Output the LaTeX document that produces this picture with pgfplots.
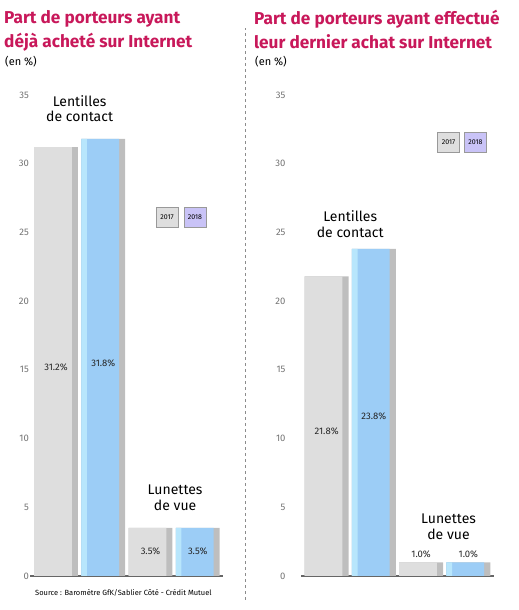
\documentclass[border=0pt]{standalone}
\usepackage{fontspec}
\setmainfont{Fira Sans}
\usepackage{pgfplots}
\pgfplotsset{compat=1.18}
\definecolor{titlered}{HTML}{C8185A}
\definecolor{barg}{HTML}{DEDEDE}
\definecolor{bargd}{HTML}{BEBEBE}
\definecolor{barb}{HTML}{9CCDF6}
\definecolor{barbl}{HTML}{B8E6FC}
\definecolor{lav}{HTML}{C9C3F7}
\pgfplotsset{panel/.style={
  scale only axis, width=189pt, height=481pt, anchor=south west,
  xmin=-0.5, xmax=3.5, ymin=0, ymax=35,
  axis lines*=left, clip=false,
  y axis line style={draw=none},
  x axis line style={draw=black!60, line width=2.5pt, shorten <=-2pt, shorten >=-2pt},
  xtick=\empty, ytick={0,5,...,35}, major tick length=0pt,
  /pgf/number format/assume math mode=true,
  yticklabel style={font=\fontsize{9.5}{9.5}\selectfont, text=black!55},
  ybar, bar shift=0pt,
  every node near coord/.style={anchor=center, font=\fontsize{9.5}{9.5}\selectfont, text=black!85},
}}
\newcommand{\catfont}{\fontsize{14}{15.5}\selectfont}
\begin{document}
\begin{tikzpicture}
\path[use as bounding box] (0pt,0pt) rectangle (519pt,610pt);
% titles
\node[anchor=north west, text=titlered, font=\fontsize{17.2}{24}\selectfont\bfseries, align=left, inner sep=0pt] at (4pt,600pt) {Part de porteurs ayant\\déjà acheté sur Internet};
\node[anchor=west, font=\fontsize{11}{12}\selectfont, inner sep=0pt] at (5pt,548pt) {(en \%)};
\node[anchor=north west, text=titlered, font=\fontsize{17.2}{24}\selectfont\bfseries, align=left, inner sep=0pt] at (254pt,600pt) {Part de porteurs ayant effectué\\leur dernier achat sur Internet};
\node[anchor=west, font=\fontsize{11}{12}\selectfont, inner sep=0pt] at (255pt,548pt) {(en \%)};
\draw[black!45, dashed] (245pt,10pt) -- (245pt,582pt);
\node[anchor=west, font=\fontsize{7.5}{8}\selectfont, inner sep=0pt] at (35pt,17pt) {Source : Baromètre GfK/Sablier Côté - Crédit Mutuel};

% left panel
\begin{axis}[panel, at={(32.4pt,34pt)}]
\addplot[fill=bargd, draw=none, bar width=0.93] coordinates {(0,31.2) (2,3.5)};
\addplot[fill=barg, draw=none, bar width=0.80, bar shift=-0.065] coordinates {(0,31.2) (2,3.5)};
\addplot[fill=bargd, draw=none, bar width=0.93] coordinates {(1,31.8) (3,3.5)};
\addplot[fill=barb, draw=none, bar width=0.80, bar shift=-0.065] coordinates {(1,31.8) (3,3.5)};
\addplot[fill=barbl, draw=none, bar width=0.12, bar shift=-0.405] coordinates {(1,31.8) (3,3.5)};
\addplot[draw=none, mark=none, nodes near coords, point meta=explicit symbolic] coordinates {(0,15.2)[31.2\%] (1,15.5)[31.8\%] (2,1.8)[3.5\%] (3,1.8)[3.5\%]};
\node[align=center, font=\catfont] at (axis cs:0.5,34.0) {Lentilles\\de contact};
\node[align=center, font=\catfont] at (axis cs:2.52,5.7) {Lunettes\\de vue};
\node[fill=barg, draw=black!40, minimum width=22pt, minimum height=20pt, inner sep=1pt, font=\fontsize{7}{7}\selectfont] at (axis cs:2.35,26.1) {2017};
\node[fill=lav, draw=black!40, minimum width=22pt, minimum height=20pt, inner sep=1pt, font=\fontsize{7}{7}\selectfont] at (axis cs:2.94,26.1) {2018};
\end{axis}

% right panel
\begin{axis}[panel, at={(303pt,34pt)}, yticklabel style={xshift=-14pt}]
\addplot[fill=bargd, draw=none, bar width=0.93] coordinates {(0,21.8) (2,1.0)};
\addplot[fill=barg, draw=none, bar width=0.80, bar shift=-0.065] coordinates {(0,21.8) (2,1.0)};
\addplot[fill=bargd, draw=none, bar width=0.93] coordinates {(1,23.8) (3,1.0)};
\addplot[fill=barb, draw=none, bar width=0.80, bar shift=-0.065] coordinates {(1,23.8) (3,1.0)};
\addplot[fill=barbl, draw=none, bar width=0.12, bar shift=-0.405] coordinates {(1,23.8) (3,1.0)};
\addplot[draw=none, mark=none, nodes near coords, point meta=explicit symbolic] coordinates {(0,10.5)[21.8\%] (1,11.6)[23.8\%] (2,1.6)[1.0\%] (3,1.6)[1.0\%]};
\node[align=center, font=\catfont] at (axis cs:0.5,25.6) {Lentilles\\de contact};
\node[align=center, font=\catfont] at (axis cs:2.58,3.6) {Lunettes\\de vue};
\node[fill=barg, draw=black!40, minimum width=22pt, minimum height=20pt, inner sep=1pt, font=\fontsize{7}{7}\selectfont] at (axis cs:2.58,31.6) {2017};
\node[fill=lav, draw=black!40, minimum width=22pt, minimum height=20pt, inner sep=1pt, font=\fontsize{7}{7}\selectfont] at (axis cs:3.15,31.6) {2018};
\end{axis}
\end{tikzpicture}
\end{document}
